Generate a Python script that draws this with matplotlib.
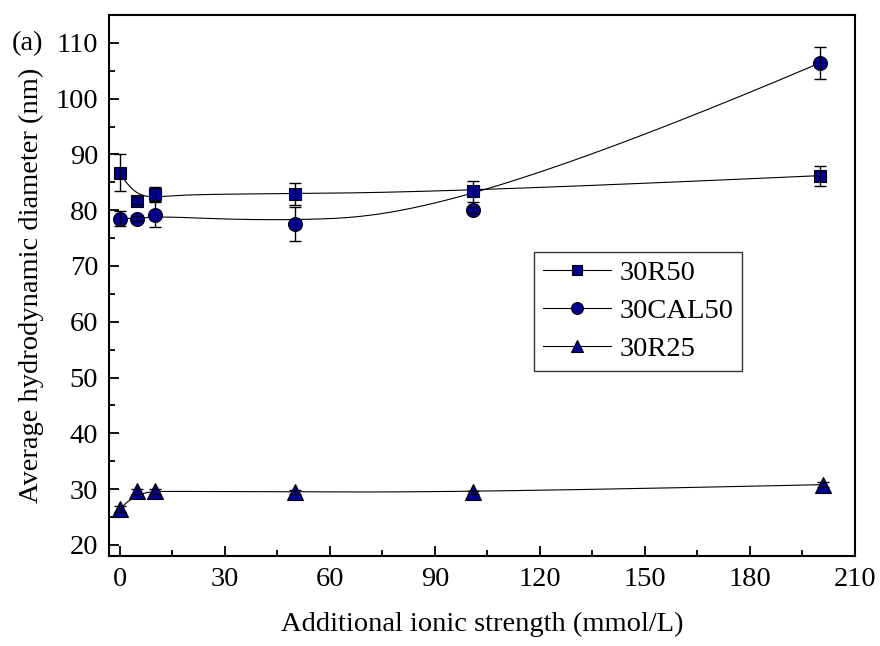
import numpy as np
import matplotlib
matplotlib.use("Agg")
import matplotlib.pyplot as plt

plt.rcParams['font.family'] = ['Liberation Serif', 'DejaVu Serif']

# ionic strength (mmol/L)
x_r50 = [0, 5, 10, 50, 101, 200]
y_r50 = [86.7, 81.7, 82.9, 82.9, 83.4, 86.2]
e_r50 = [3.3, 0.6, 1.3, 2.0, 1.9, 1.8]

x_cal = [0, 5, 10, 50, 101, 200]
y_cal = [78.5, 78.5, 79.2, 77.5, 80.0, 106.4]
e_cal = [1.4, 0.5, 2.3, 3.0, 0.5, 2.8]

x_r25 = [0, 5, 10, 50, 101, 201]
y_r25 = [26.4, 29.6, 29.6, 29.5, 29.4, 30.8]
e_r25 = [0.5, 0.4, 0.4, 0.3, 0.3, 0.4]

labels = ['30R50', '30CAL50', '30R25']
markers = ['s', 'o', '^']
msizes = [8.5, 10, 11]
fill = '#000099'
FS = 20.5


def bspline(px, py, n=300, k=3):
    # clamped B-spline, data points used as control points (Origin style)
    P = np.column_stack([px, py]).astype(float)
    m = len(P)
    t = np.concatenate([np.zeros(k), np.linspace(0, 1, m - k + 1), np.ones(k)])
    u = np.linspace(0, 1 - 1e-9, n)

    def basis(i, p, uu):
        if p == 0:
            return ((t[i] <= uu) & (uu < t[i + 1])).astype(float)
        a = np.zeros_like(uu)
        if t[i + p] != t[i]:
            a = (uu - t[i]) / (t[i + p] - t[i]) * basis(i, p - 1, uu)
        b = np.zeros_like(uu)
        if t[i + p + 1] != t[i + 1]:
            b = (t[i + p + 1] - uu) / (t[i + p + 1] - t[i + 1]) * basis(i + 1, p - 1, uu)
        return a + b

    N = np.array([basis(i, k, u) for i in range(m)])
    C = N.T @ P
    C = np.vstack([C, P[-1]])
    return C[:, 0], C[:, 1]


fig = plt.figure(figsize=(8.8, 6.46), dpi=100)
ax = fig.add_axes([0.1242, 0.1393, 0.8474, 0.8375])

series = [(x_r50, y_r50, e_r50), (x_cal, y_cal, e_cal), (x_r25, y_r25, e_r25)]
for (xs, ys, es), lab, mk, ms in zip(series, labels, markers, msizes):
    cx, cy = bspline(xs, ys)
    ax.plot(cx, cy, color='black', lw=0.8, zorder=2)
    ax.plot(xs, ys, ls='none', marker=mk, ms=ms, mfc=fill, mec='black',
            mew=0.8, zorder=3)
    ax.errorbar(xs, ys, yerr=es, fmt='none', ecolor='black', elinewidth=1,
                capsize=4, capthick=1, zorder=4)
    # legend handle
    ax.plot([], [], color='black', lw=0.8, marker=mk, ms=ms * 0.85,
            mfc=fill, mec='black', mew=0.8, label=lab)

ax.set_xlim(-3, 210)
ax.set_ylim(18, 115)
ax.set_xticks(np.arange(0, 211, 30))
ax.set_xticks(np.arange(15, 211, 30), minor=True)
ax.set_yticks(np.arange(20, 111, 10))
ax.set_yticks(np.arange(25, 115, 10), minor=True)

for s in ax.spines.values():
    s.set_linewidth(1.5)
ax.tick_params(which='major', direction='in', length=7.5, width=1.3,
               labelsize=FS, pad=8, top=False, right=False)
ax.tick_params(which='minor', direction='in', length=4.5, width=1.3,
               top=False, right=False)

ax.set_xlabel('Additional ionic strength (mmol/L)', fontsize=FS, labelpad=14)
ax.set_ylabel('Average hydrodynamic diameter (nm)', fontsize=FS, labelpad=8)

fig.text(0.013, 0.932, '(a)', fontsize=FS, ha='left', va='center')

leg = ax.legend(loc='upper left', bbox_to_anchor=(0.570, 0.562), fontsize=FS,
                frameon=True, fancybox=False, edgecolor='black',
                handlelength=2.4, handletextpad=0.3, borderpad=0.3,
                labelspacing=0.42, borderaxespad=0)
leg.get_frame().set_linewidth(1.0)

fig.savefig('out.png', dpi=100)
